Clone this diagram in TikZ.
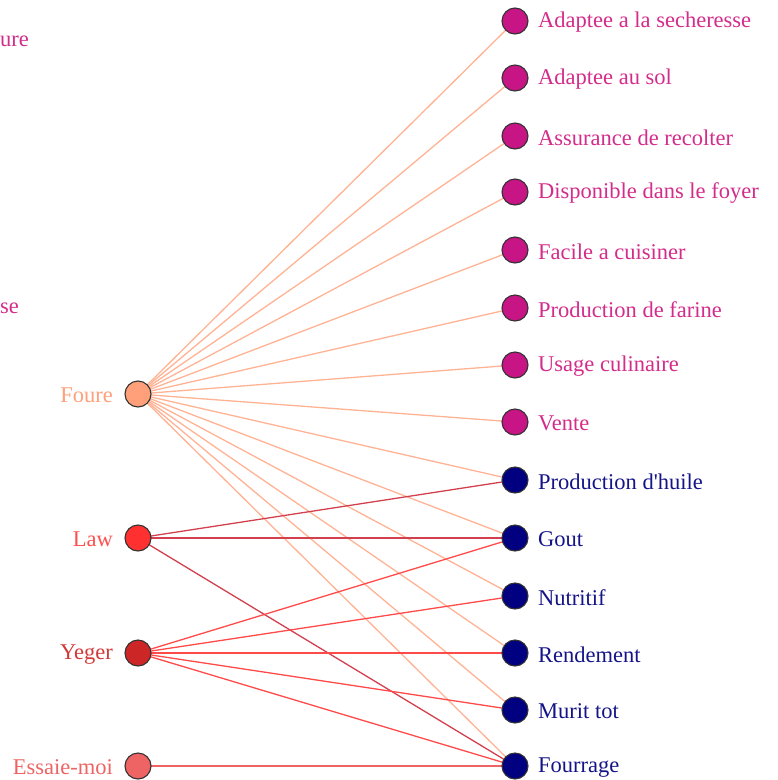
\documentclass[tikz,border=0pt]{standalone}
\usepackage{fontspec}
\setmainfont{Liberation Serif}
\definecolor{pinknode}{HTML}{C71585}
\definecolor{pinktext}{HTML}{D42C8A}
\definecolor{navynode}{HTML}{000080}
\definecolor{navytext}{HTML}{141488}
\definecolor{foure}{HTML}{FFA07A}
\definecolor{fourelink}{HTML}{FFB394}
\definecolor{law}{HTML}{FF3030}
\definecolor{lawtext}{HTML}{FF5050}
\definecolor{lawlink}{HTML}{D2404E}
\definecolor{yeger}{HTML}{CD2626}
\definecolor{yegertext}{HTML}{D23A3A}
\definecolor{yegerlink}{HTML}{FF4A4A}
\definecolor{essai}{HTML}{EE6363}
\tikzset{
  vert/.style={circle, draw=black!80, line width=1.1pt, minimum size=26pt, inner sep=0pt},
  lbl/.style={font=\fontsize{22.5}{25}\selectfont, inner sep=0pt},
  link/.style={line width=1.3pt},
}
\begin{document}
\begin{tikzpicture}[x=1pt,y=-1pt]
\useasboundingbox (0,0) rectangle (778,780);
% right-hand attribute vertices
\foreach \n/\y in {a1/21, a2/78, a3/136, a4/192, a5/250, a6/308, a7/365, a8/422}
  \coordinate (\n) at (515,\y);
\foreach \n/\y in {b1/480, b2/538, b3/596, b4/653, b5/710, b6/766}
  \coordinate (\n) at (515,\y);
% left-hand variety vertices
\coordinate (foure) at (138,394);
\coordinate (law) at (138,538);
\coordinate (yeger) at (138,653);
\coordinate (essai) at (138,766);
% links
\foreach \t in {a1,a2,a3,a4,a5,a6,a7,a8,b1,b2,b3,b4,b5,b6}
  \draw[link, fourelink] (foure) -- (\t);
\foreach \t in {b1,b2,b6}
  \draw[link, lawlink] (law) -- (\t);
\foreach \t in {b2,b3,b4,b5,b6}
  \draw[link, yegerlink] (yeger) -- (\t);
\draw[link, essai] (essai) -- (b6);
% vertex discs and labels
\foreach \n/\t in {a1/Adaptee a la secheresse, a2/Adaptee au sol, a3/Assurance de recolter, a4/Disponible dans le foyer, a5/Facile a cuisiner, a6/Production de farine, a7/Usage culinaire, a8/Vente}{
  \node[vert, fill=pinknode] (n\n) at (\n) {};
  \node[lbl, anchor=west, text=pinktext] (l\n) at ([xshift=23pt,yshift=-1.5pt]\n) {\t};
}
\foreach \n/\t in {b1/Production d\textquotesingle huile, b2/Gout, b3/Nutritif, b4/Rendement, b5/Murit tot, b6/Fourrage}{
  \node[vert, fill=navynode] (n\n) at (\n) {};
  \node[lbl, anchor=west, text=navytext] (l\n) at ([xshift=23pt,yshift=-1.5pt]\n) {\t};
}
\node[vert, fill=foure] (nfoure) at (foure) {};
\node[lbl, anchor=east, text=foure] (lfoure) at ([xshift=-25pt,yshift=-1.5pt]foure) {Foure};
\node[vert, fill=law] (nlaw) at (law) {};
\node[lbl, anchor=east, text=lawtext] (llaw) at ([xshift=-25pt,yshift=-1.5pt]law) {Law};
\node[vert, fill=yeger] (nyeger) at (yeger) {};
\node[lbl, anchor=east, text=yegertext] (lyeger) at ([xshift=-25pt,yshift=-1.5pt]yeger) {Yeger};
\node[vert, fill=essai] (nessai) at (essai) {};
\node[lbl, anchor=east, text=essai] (lessai) at ([xshift=-25pt,yshift=-1.5pt]essai) {Essaie-moi};
% labels running off the left edge
\node[lbl, anchor=west, text=pinktext] (lcut1) at (0,41) {ure};
\node[lbl, anchor=west, text=pinktext] (lcut2) at (0,308) {se};
\end{tikzpicture}
\end{document}
